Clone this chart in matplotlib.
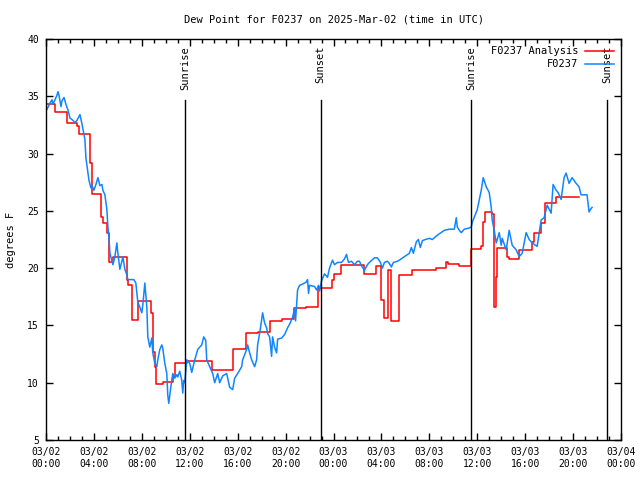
import matplotlib
matplotlib.use('Agg')
import matplotlib.pyplot as plt
import numpy as np

# minutes since 03/02 00:00 UTC
obs_min = [0, 20, 30, 35, 45, 55, 60, 65, 75, 80, 90, 100, 110, 120, 135, 145, 155, 170, 180, 195,
           200, 210, 215, 225, 230, 240, 250, 260, 270, 280, 285, 295, 305, 310, 315, 320, 335, 345, 355, 360,
           370, 380, 385, 395, 405, 410, 425, 440, 450, 460, 470, 480, 485, 495, 505, 510, 520, 530, 535, 545,
           555, 560, 570, 580, 585, 595, 605, 610, 615, 625, 635, 645, 655, 660, 670, 680, 685, 690, 695, 705,
           720, 730, 745, 760, 780, 790, 800, 805, 820, 835, 845, 860, 870, 885, 905, 920, 935, 945, 960, 980,
           985, 1005, 1010, 1020, 1030, 1045, 1055, 1060, 1070, 1080, 1085, 1095, 1105, 1110, 1120, 1130, 1135, 1145, 1155, 1160,
           1180, 1195, 1210, 1220, 1235, 1245, 1250, 1260, 1270, 1285, 1305, 1310, 1315, 1320, 1345, 1355, 1365, 1370, 1380, 1395,
           1410, 1420, 1435, 1445, 1460, 1480, 1495, 1505, 1515, 1530, 1545, 1560, 1570, 1580, 1595, 1610, 1620, 1645, 1660, 1675,
           1685, 1695, 1710, 1720, 1730, 1740, 1760, 1770, 1795, 1820, 1830, 1840, 1855, 1865, 1875, 1885, 1900, 1920, 1935, 1955,
           1970, 1995, 2020, 2045, 2055, 2060, 2070, 2080, 2095, 2120, 2130, 2135, 2160, 2180, 2190, 2205, 2220, 2230, 2235, 2245,
           2255, 2270, 2280, 2285, 2305, 2320, 2335, 2355, 2370, 2385, 2405, 2420, 2435, 2460, 2480, 2495, 2510, 2530, 2540, 2555,
           2565, 2580, 2595, 2605, 2620, 2635, 2655, 2670, 2680, 2710, 2720, 2730, 2735]
obs_dp = [33.7, 34.4, 34.7, 34.3, 34.7, 35.1, 35.4, 35.1, 34.1, 34.6, 34.9, 34.3, 33.8, 33.1, 32.9, 32.7, 32.9, 33.4, 32.6, 31.2,
          29.6, 28.3, 27.7, 27.0, 27.2, 26.8, 27.3, 27.9, 27.2, 27.3, 26.8, 26.4, 25.1, 23.6, 22.8, 21.3, 20.3, 21.0, 22.2, 21.3,
          19.9, 20.6, 21.0, 19.9, 19.4, 19.0, 19.0, 19.0, 18.7, 17.0, 16.6, 16.1, 16.8, 18.7, 16.6, 14.0, 13.1, 13.9, 12.6, 11.7,
          11.4, 12.0, 12.9, 13.3, 13.0, 11.7, 10.8, 8.9, 8.2, 9.6, 10.8, 10.4, 10.7, 10.5, 11.0, 10.2, 9.1, 10.2, 10.0, 12.0,
          11.7, 10.9, 12.0, 12.9, 13.3, 14.0, 13.7, 12.0, 11.4, 10.8, 10.0, 10.8, 10.0, 10.6, 10.8, 9.6, 9.4, 10.4, 10.8, 11.4,
          12.0, 12.9, 13.3, 12.6, 12.0, 11.4, 12.0, 13.3, 14.3, 15.5, 16.1, 15.2, 14.8, 14.3, 14.0, 12.3, 14.0, 13.1, 12.6, 13.8,
          13.9, 14.2, 14.8, 15.1, 15.7, 16.5, 15.4, 18.1, 18.5, 18.6, 18.8, 19.0, 17.8, 18.5, 18.4, 18.1, 18.5, 18.0, 18.9, 19.5,
          19.2, 20.0, 20.7, 20.3, 20.5, 20.5, 20.8, 21.2, 20.5, 20.6, 20.3, 20.6, 20.6, 20.2, 19.8, 20.3, 20.5, 20.9, 20.9, 20.5,
          20.0, 20.5, 20.6, 20.4, 20.1, 20.5, 20.6, 20.7, 21.0, 21.3, 21.8, 21.3, 22.3, 22.5, 21.8, 22.4, 22.5, 22.6, 22.5, 22.8,
          23.0, 23.3, 23.4, 23.4, 24.4, 23.6, 23.3, 23.1, 23.4, 23.5, 23.6, 24.0, 25.1, 26.8, 27.9, 27.1, 26.6, 25.3, 24.2, 23.3,
          22.2, 23.1, 22.0, 22.6, 21.6, 23.3, 22.0, 21.6, 21.0, 21.3, 23.1, 22.5, 22.2, 21.9, 24.2, 24.4, 25.5, 24.8, 27.3, 26.8,
          26.6, 26.0, 27.9, 28.3, 27.4, 27.9, 27.4, 27.1, 26.4, 26.4, 24.9, 25.2, 25.3]

ana_min = [0, 45, 105, 155, 165, 220, 230, 275, 285, 305, 315, 335, 405, 410, 430, 460, 525, 535, 545, 550,
           585, 635, 645, 705, 830, 935, 1000, 1060, 1120, 1180, 1240, 1300, 1360, 1430, 1445, 1480, 1595, 1655, 1680, 1695,
           1715, 1730, 1770, 1835, 1955, 2005, 2015, 2070, 2130, 2180, 2190, 2200, 2235, 2245, 2255, 2260, 2310, 2320, 2370, 2435,
           2445, 2480, 2500, 2555, 2670]
ana_dp = [34.3, 33.6, 32.7, 32.4, 31.7, 29.2, 26.5, 24.5, 23.9, 23.1, 20.5, 21.0, 19.0, 18.5, 15.5, 17.1, 16.1, 12.7, 11.4, 9.9,
          10.1, 10.5, 11.7, 11.9, 11.1, 12.9, 14.3, 14.45, 15.4, 15.55, 16.5, 16.6, 18.3, 19.0, 19.5, 20.3, 19.5, 20.2, 17.2, 15.65,
          19.8, 15.4, 19.4, 19.85, 20.0, 20.5, 20.35, 20.2, 21.7, 21.9, 24.05, 24.9, 24.7, 16.6, 19.2, 21.8, 21.0, 20.8, 21.6, 22.3,
          23.1, 23.9, 25.7, 26.2, 26.2]

sun_min = [695, 1375, 2130, 2810]
sun_lbl = ['Sunrise', 'Sunset', 'Sunrise', 'Sunset']

tick_min = list(range(0, 2881, 240))
tick_lbl = ['03/02\n00:00', '03/02\n04:00', '03/02\n08:00', '03/02\n12:00', '03/02\n16:00', '03/02\n20:00',
            '03/03\n00:00', '03/03\n04:00', '03/03\n08:00', '03/03\n12:00', '03/03\n16:00', '03/03\n20:00',
            '03/04\n00:00']

plt.rcParams['font.family'] = 'DejaVu Sans Mono'
plt.rcParams['font.size'] = 7

fig = plt.figure(figsize=(6.4, 4.8), dpi=100)
ax = fig.add_axes([46/640, 1 - 440/480, 575/640, 401/480])

ax.plot(ana_min, ana_dp, color='#ff0000', lw=1.1, drawstyle='steps-post', label='F0237 Analysis')
ax.plot(obs_min, obs_dp, color='#0f86ff', lw=1.1, label='F0237')

for m, s in zip(sun_min, sun_lbl):
    ax.axvline(m, ymin=0, ymax=0.848, color='k', lw=1)
    ax.text(m, 39.4, s, rotation=90, ha='center', va='top', fontsize=7.5)

ax.set_xlim(0, 2880)
ax.set_ylim(5, 40)
ax.set_xticks(tick_min)
ax.set_xticklabels(tick_lbl)
ax.set_xticks(range(0, 2881, 60), minor=True)
ax.set_yticks(range(5, 41, 5))
ax.tick_params(which='both', direction='in', top=True, right=True, width=1)
ax.tick_params(which='major', length=5, pad=5)
ax.tick_params(which='minor', length=3)
for sp in ax.spines.values():
    sp.set_linewidth(1)

ax.set_title('Dew Point for F0237 on 2025-Mar-02 (time in UTC)', fontsize=7.5, pad=12)
ax.set_ylabel('degrees F', fontsize=7.5, labelpad=8)
ax.legend(loc='upper right', frameon=False, markerfirst=False, handlelength=2.8,
          handletextpad=0.6, borderaxespad=0.4, borderpad=0.3, labelspacing=0.3, fontsize=7.5)

fig.savefig('out.png', dpi=100)
